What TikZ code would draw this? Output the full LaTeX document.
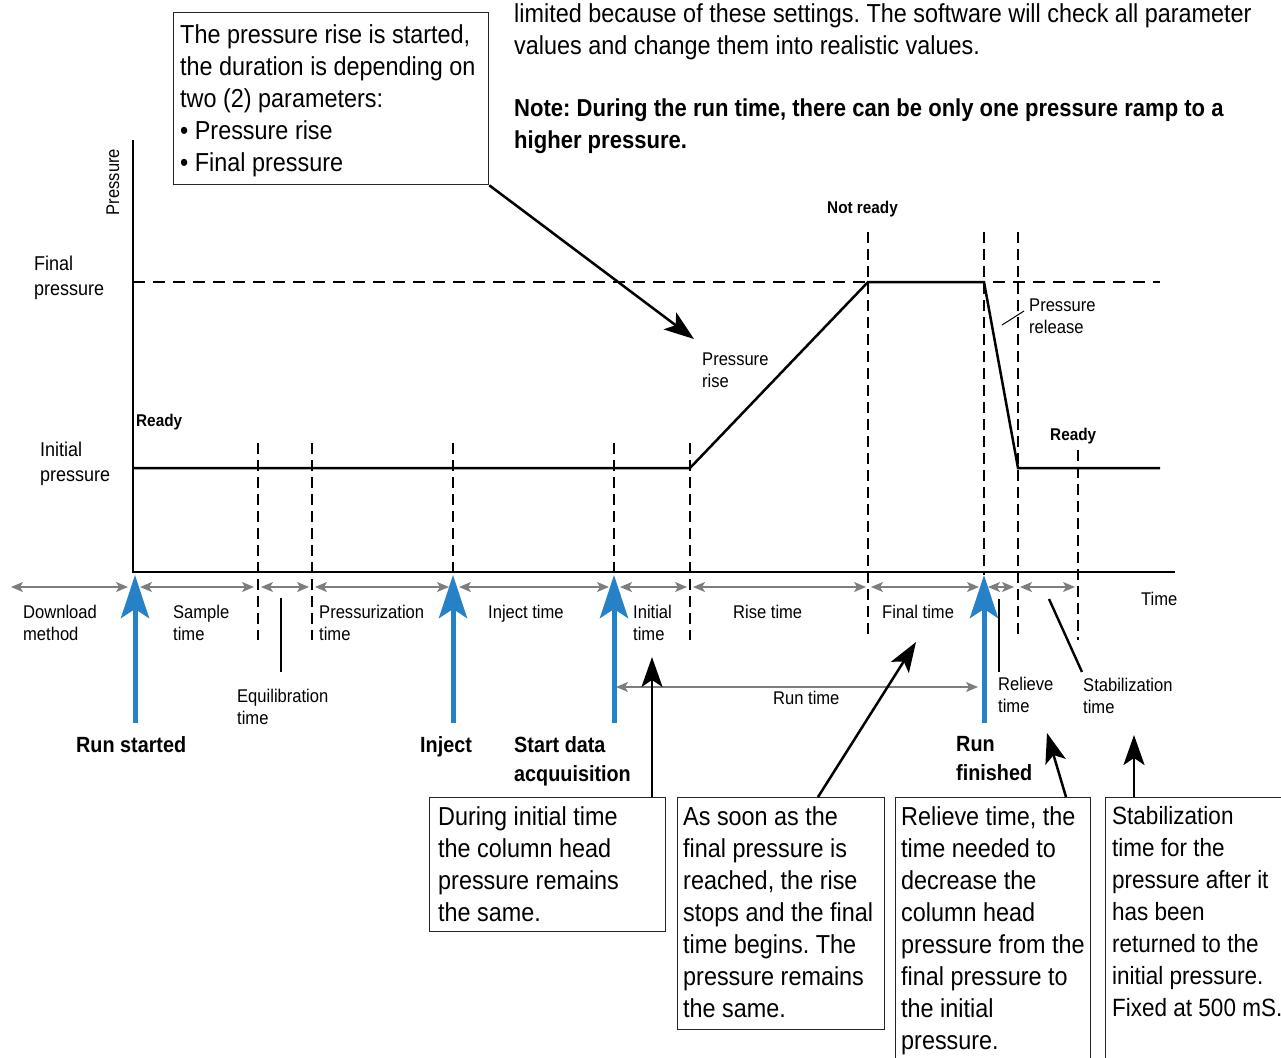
\documentclass[tikz,border=0pt]{standalone}
\usepackage{fontspec}
\setmainfont{Liberation Sans}[FakeStretch=0.9]
\usetikzlibrary{arrows.meta}
\frenchspacing
\definecolor{bluearr}{RGB}{38,129,198}
\definecolor{grayarr}{RGB}{125,125,125}
\newcommand{\fbig}{\fontsize{26}{32}\selectfont}
\newcommand{\fbigb}{\fontsize{25}{32}\selectfont}
\newcommand{\fnote}{\fontsize{24.5}{32}\selectfont\bfseries}
\newcommand{\fmid}{\fontsize{20}{25}\selectfont}
\newcommand{\fsml}{\fontsize{18.4}{22}\selectfont}
\newcommand{\fbl}{\fontsize{22}{29}\selectfont\bfseries}
\newcommand{\frdy}{\fontsize{17}{20}\selectfont\bfseries}
\begin{document}
\begin{tikzpicture}[x=1pt,y=-1pt,
  dashln/.style={line width=1.1pt, dash pattern=on 11pt off 6pt},
  axisln/.style={line width=1.4pt},
  curve/.style={line width=2.5pt, line join=miter},
  gar/.style={grayarr, line width=1.3pt, {Stealth[length=12pt,width=10pt,inset=3pt]}-{Stealth[length=12pt,width=10pt,inset=3pt]}},
  bar/.style={bluearr, line width=5pt, -{Stealth[length=43pt,width=28pt,inset=9pt]}},
  kar/.style={black, line width=2.5pt, -{Stealth[length=30pt,width=21pt,inset=7pt]}},
  kln/.style={black, line width=2.4pt},
  boxst/.style={draw=black!85, line width=1.3pt, inner sep=0pt, anchor=north west},
  btxt/.style={anchor=north west, inner sep=0pt, align=left, font=\fbig},
  ntxt/.style={anchor=north west, inner sep=0pt, align=left, font=\fnote},
  mtxt/.style={anchor=north west, inner sep=0pt, align=left, font=\fmid},
  stxt/.style={anchor=north west, inner sep=0pt, align=left, font=\fsml},
  bltxt/.style={anchor=north west, inner sep=0pt, align=left, font=\fbl},
  rtxt/.style={anchor=north west, inner sep=0pt, align=left, font=\frdy}
]
\useasboundingbox (0,0) rectangle (1281,1057);
\clip (0,0) rectangle (1281,1057);

% ---------- top text ----------
\node[btxt] (para) at (514,3) {limited because of these settings. The software will check all parameter\\values and change them into realistic values.};
\node[ntxt] (note) at (514,99) {Note: During the run time, there can be only one pressure ramp to a\\higher pressure.};

% ---------- top-left box ----------
\node[boxst, minimum width=315pt, minimum height=172pt] (tlbox) at (173,12) {};
\node[btxt] (tltext) at (180,24) {The pressure rise is started,\\the duration is depending on\\two (2) parameters:\\• Pressure rise\\• Final pressure};

% ---------- axes ----------
\coordinate (O) at (133,572);
\coordinate (Ytop) at (133,140);
\coordinate (Xend) at (1175,572);
\draw[axisln] (Ytop) -- (O) -- (Xend);
\node[rotate=90, inner sep=0pt, font=\fsml] (ylab) at (113,182) {Pressure};
\node[stxt] (xlab) at (1141,592) {Time};
\node[mtxt] (fplab) at (34,256) {Final\\pressure};
\node[mtxt] (iplab) at (40,442) {Initial\\pressure};

% final pressure level
\coordinate (fp0) at (133,282);
\coordinate (fp1) at (1160,282);
\draw[line width=1.1pt, dash pattern=on 12pt off 8pt] (fp0) -- (fp1);

% vertical dashed lines
\foreach \n/\x/\ya/\yb in {d1/258/443/640, d2/312/443/640, d3/453/443/575, d4/614/443/575, d5/690/443/640, d6/868/232/640, d7/984/232/575, d8/1018/232/640, d9/1078/450/640}{
  \coordinate (\n a) at (\x,\ya);
  \coordinate (\n b) at (\x,\yb);
  \draw[dashln] (\n a) -- (\n b);
}

% pressure curve
\coordinate (c0) at (133,468);
\coordinate (c1) at (690,468);
\coordinate (c2) at (868,282);
\coordinate (c3) at (984,282);
\coordinate (c4) at (1018,468);
\coordinate (c5) at (1160,468);
\draw[curve] (c0) -- (c1) -- (c2) -- (c3) -- (c4) -- (c5);

% curve labels
\node[rtxt] (rdy1) at (136,414) {Ready};
\node[rtxt] (rdy2) at (1050,428) {Ready};
\node[rtxt] (nrdy) at (827,201) {Not ready};
\node[stxt] (prise) at (702,353) {Pressure\\rise};
\node[stxt] (prel) at (1029,299) {Pressure\\release};
\coordinate (tk0) at (1002,325);
\coordinate (tk1) at (1024,311);
\draw[line width=1pt] (tk0) -- (tk1);

% ---------- gray time arrows ----------
\foreach \n/\xa/\xb in {g1/11/128, g2/140/254, g3/261/309, g4/315/449, g5/459/609, g6/620/687, g7/693/866, g8/871/979, g9/988/1014, g10/1020/1075}{
  \coordinate (\n a) at (\xa,587);
  \coordinate (\n b) at (\xb,587);
  \draw[gar] (\n a) -- (\n b);
}
\coordinate (rta) at (616,687);
\coordinate (rtb) at (978,687);
\draw[gar] (rta) -- (rtb);

% time labels
\node[stxt] (l1) at (23,605) {Download\\method};
\node[stxt] (l2) at (173,605) {Sample\\time};
\node[stxt] (l3) at (237,689) {Equilibration\\time};
\node[stxt] (l4) at (319,605) {Pressurization\\time};
\node[stxt] (l5) at (488,605) {Inject time};
\node[stxt] (l6) at (633,605) {Initial\\time};
\node[stxt] (l7) at (733,605) {Rise time};
\node[stxt] (l8) at (882,605) {Final time};
\node[stxt] (l9) at (998,677) {Relieve\\time};
\node[stxt] (l10) at (1083,678) {Stabilization\\time};
\node[stxt] (l11) at (773,691) {Run time};

% pointer lines
\coordinate (eq0) at (281,598); \coordinate (eq1) at (281,672);
\draw[kln] (eq0) -- (eq1);
\coordinate (rl0) at (999,599); \coordinate (rl1) at (999,672);
\draw[kln] (rl0) -- (rl1);
\coordinate (st0) at (1049,599); \coordinate (st1) at (1082,672);
\draw[kln] (st0) -- (st1);

% ---------- blue event arrows ----------
\foreach \n/\x in {b1/135, b2/453, b3/614, b4/984}{
  \coordinate (\n a) at (\x,723);
  \coordinate (\n b) at (\x,575);
  \draw[bar] (\n a) -- (\n b);
}
\node[bltxt] (ev1) at (76,736) {Run started};
\node[bltxt] (ev2) at (420,736) {Inject};
\node[bltxt] (ev3) at (514,736) {Start data\\acquuisition};
\node[bltxt] (ev4) at (956,736) {Run\\finished};

% ---------- bottom boxes ----------
\node[boxst, minimum width=236pt, minimum height=134pt] (bx1) at (429,797) {};
\node[btxt] (bx1t) at (438,806) {During initial time\\the column head\\pressure remains\\the same.};
\node[boxst, minimum width=207pt, minimum height=232pt] (bx2) at (677,797) {};
\node[btxt] (bx2t) at (683,806) {As soon as the\\final pressure is\\reached, the rise\\stops and the final\\time begins. The\\pressure remains\\the same.};
\node[boxst, minimum width=195pt, minimum height=290pt] (bx3) at (895,797) {};
\node[btxt] (bx3t) at (901,806) {Relieve time, the\\time needed to\\decrease the\\column head\\pressure from the\\final pressure to\\the initial\\pressure.};
\node[boxst, minimum width=200pt, minimum height=290pt] (bx4) at (1105,797) {};
\node[btxt, font=\fbigb] (bx4t) at (1112,806) {Stabilization\\time for the\\pressure after it\\has been\\returned to the\\initial pressure.\\Fixed at 500 mS.};

% ---------- black pointer arrows ----------
\coordinate (k1) at (694,339);
\draw[kar] (tlbox.south east) -- (k1);
\coordinate (k2s) at (652,797); \coordinate (k2) at (652,657);
\draw[kar] (k2s) -- (k2);
\coordinate (k3s) at (818,797); \coordinate (k3) at (916,642);
\draw[kar] (k3s) -- (k3);
\coordinate (k4s) at (1066,797); \coordinate (k4) at (1047,733);
\draw[kar] (k4s) -- (k4);
\coordinate (k5s) at (1134,797); \coordinate (k5) at (1134,735);
\draw[kar] (k5s) -- (k5);
\end{tikzpicture}
\end{document}
